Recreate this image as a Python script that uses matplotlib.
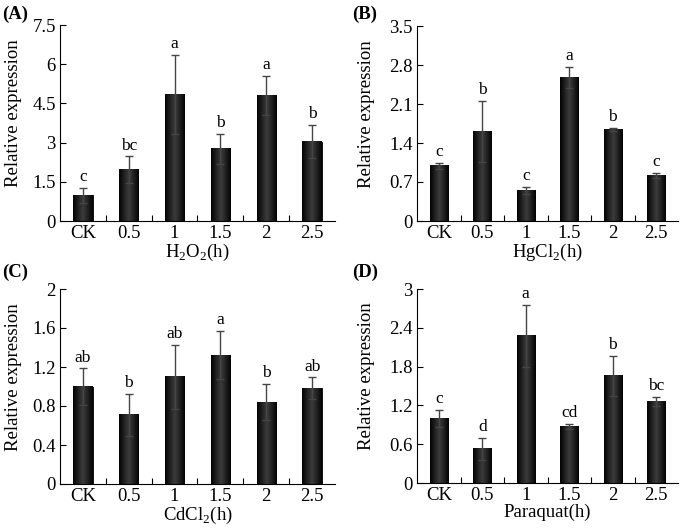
import numpy as np
import matplotlib
matplotlib.use("Agg")
import matplotlib.pyplot as plt
from matplotlib.colors import LinearSegmentedColormap

plt.rcParams['font.family'] = ['Liberation Serif', 'DejaVu Serif']
plt.rcParams['mathtext.fontset'] = 'custom'
plt.rcParams['mathtext.rm'] = 'Liberation Serif'

categories = ["CK", "0.5", "1", "1.5", "2", "2.5"]

# (A) H2O2
h2o2_mean = [0.98, 1.97, 4.83, 2.77, 4.80, 3.04]
h2o2_err = [0.28, 0.50, 1.52, 0.57, 0.75, 0.64]
h2o2_sig = ["c", "bc", "a", "b", "a", "b"]

# (B) HgCl2
hgcl2_mean = [0.99, 1.61, 0.55, 2.57, 1.64, 0.82]
hgcl2_err = [0.05, 0.55, 0.06, 0.19, 0.03, 0.05]
hgcl2_sig = ["c", "b", "c", "a", "b", "c"]

# (C) CdCl2
cdcl2_mean = [1.00, 0.71, 1.10, 1.32, 0.84, 0.98]
cdcl2_err = [0.185, 0.215, 0.33, 0.245, 0.185, 0.113]
cdcl2_sig = ["ab", "b", "ab", "a", "b", "ab"]

# (D) Paraquat
paraquat_mean = [1.00, 0.53, 2.28, 0.87, 1.66, 1.26]
paraquat_err = [0.134, 0.17, 0.48, 0.04, 0.31, 0.07]
paraquat_sig = ["c", "d", "a", "cd", "b", "bc"]

panels = [
    ("(A)", h2o2_mean, h2o2_err, h2o2_sig, r"H$_2$O$_2$(h)", 7.5, [0, 1.5, 3, 4.5, 6, 7.5], ["0", "1.5", "3", "4.5", "6", "7.5"]),
    ("(B)", hgcl2_mean, hgcl2_err, hgcl2_sig, r"HgCl$_2$(h)", 3.5, [0, 0.7, 1.4, 2.1, 2.8, 3.5], ["0", "0.7", "1.4", "2.1", "2.8", "3.5"]),
    ("(C)", cdcl2_mean, cdcl2_err, cdcl2_sig, r"CdCl$_2$(h)", 2.0, [0, 0.4, 0.8, 1.2, 1.6, 2.0], ["0", "0.4", "0.8", "1.2", "1.6", "2"]),
    ("(D)", paraquat_mean, paraquat_err, paraquat_sig, "Paraquat(h)", 3.0, [0, 0.6, 1.2, 1.8, 2.4, 3.0], ["0", "0.6", "1.2", "1.8", "2.4", "3"]),
]

# axes boxes in pixels: left, top, right, bottom
W, H = 693, 531
boxes = [(60, 25, 335, 221), (417, 26, 678, 221), (60, 289, 335, 484), (417, 289, 678, 483)]
label_pos = [(2, 14), (352, 14), (2, 272), (352, 272)]
ylabel_x = [14, 366, 14, 366]

cmap = LinearSegmentedColormap.from_list("cyl", ["#020202", "#202020", "#3c3c3c", "#202020", "#020202"])
grad = np.linspace(0, 1, 64).reshape(1, -1)

fig = plt.figure(figsize=(W / 100, H / 100), dpi=100)

for (label, mean, err, sig, xlabel, ymax, yticks, ylabels), (l, t, r, b), (lx, ly), yx in zip(panels, boxes, label_pos, ylabel_x):
    ax = fig.add_axes([l / W, 1 - b / H, (r - l) / W, (b - t) / H])
    x = np.arange(len(categories))
    w = 0.42
    ax.bar(x, mean, width=w, color="#111111", edgecolor="#000000", linewidth=0.6, zorder=2)
    for xi, m in zip(x, mean):
        ax.imshow(grad, cmap=cmap, aspect="auto", extent=(xi - w / 2, xi + w / 2, 0, m), zorder=2.5)
    ax.errorbar(x, mean, yerr=err, fmt="none", ecolor="#454545", elinewidth=1.0, capsize=3, capthick=1.0, zorder=3)
    for xi, m, e, s in zip(x, mean, err, sig):
        ax.text(xi, m + e + ymax * 0.015, s, ha="center", va="bottom", fontsize=12.5)
    ax.set_xlim(-0.5, len(categories) - 0.5)
    ax.set_ylim(0, ymax)
    ax.set_yticks(yticks)
    ax.set_yticklabels(ylabels, fontsize=13.5)
    ax.set_xticks(x)
    ax.set_xticklabels(categories, fontsize=13.5)
    ax.tick_params(axis="x", length=0, pad=3)
    ax.set_xticks(np.arange(0.5, len(categories) - 0.5), minor=True)
    ax.tick_params(axis="x", which="minor", direction="in", length=4, width=0.8)
    ax.tick_params(axis="y", direction="in", length=4, width=0.8, pad=3)
    ax.spines["top"].set_visible(False)
    ax.spines["right"].set_visible(False)
    ax.spines["left"].set_linewidth(0.8)
    ax.spines["bottom"].set_linewidth(0.8)
    ax.set_xlabel(xlabel, fontsize=13.5, labelpad=0)
    ax.set_ylabel("Relative expression", fontsize=13.5, va="center")
    ax.yaxis.set_label_coords((yx - l) / (r - l), 0.55)
    fig.text(lx / W, 1 - ly / H, label, fontsize=13.5, fontweight="bold", va="center", ha="left")

fig.savefig("out.png", dpi=100)
